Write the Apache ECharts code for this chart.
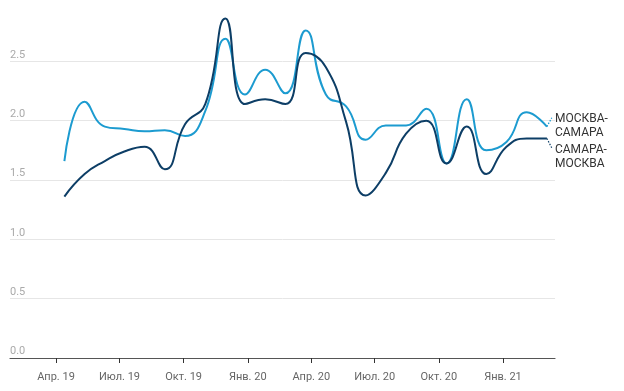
<!DOCTYPE html>
<html>
<head>
<meta charset="utf-8">
<script src="https://cdn.jsdelivr.net/npm/echarts@6/dist/echarts.min.js"></script>
<style>html,body{margin:0;padding:0;background:#fff}#c{width:624px;height:391px}</style>
</head>
<body>
<div id="c"></div>
<script>
// Observation dates (x) and values for each direction
const dates = ['2019-04-13','2019-05-12','2019-06-10','2019-07-08','2019-08-06','2019-09-04','2019-10-03','2019-11-01','2019-11-30','2019-12-28','2020-01-26','2020-02-24','2020-03-24','2020-04-22','2020-05-21','2020-06-18','2020-07-17','2020-08-15','2020-09-13','2020-10-12','2020-11-10','2020-12-08','2021-01-06','2021-02-04','2021-03-05'];
const moscowSamara = [1.66,2.16,1.95,1.93,1.91,1.92,1.87,2.08,2.69,2.22,2.43,2.23,2.76,2.22,2.12,1.84,1.96,1.96,2.10,1.64,2.18,1.75,1.82,2.07,1.95];
const samaraMoscow = [1.36,1.55,1.66,1.74,1.78,1.59,1.97,2.14,2.86,2.14,2.18,2.14,2.57,2.45,1.99,1.37,1.56,1.89,2.00,1.64,1.95,1.55,1.78,1.85,1.85];
const tickDates = ['2019-04-01','2019-07-01','2019-10-01','2020-01-01','2020-04-01','2020-07-01','2020-10-01','2021-01-01'];
const tickLabels = ['Апр. 19','Июл. 19','Окт. 19','Янв. 20','Апр. 20','Июл. 20','Окт. 20','Янв. 21'];
const seriesNames = ['МОСКВА-\nСАМАРА','САМАРА-\nМОСКВА'];

const base = Date.UTC(2019,3,1);
const dayOf = s => { const p = s.split('-').map(Number); return Math.round((Date.UTC(p[0],p[1]-1,p[2]) - base)/86400000); };
const xs = dates.map(dayOf);
const ticks = tickDates.map(dayOf);
const labelFor = v => { const i = ticks.indexOf(Math.round(v)); return i >= 0 ? tickLabels[i] : ''; };
const last = xs.length - 1;

// short dotted leader from the line end toward its label
function leader(vals, dy, color) {
  return {
    silent: true, symbol: 'none', animation: false,
    label: { show: false },
    lineStyle: { type: [1.5, 1.5], color: color, width: 1.2 },
    data: [[ { coord: [xs[last], vals[last]] }, { coord: [xs[last] + 7, vals[last] + dy] } ]]
  };
}

const chart = echarts.init(document.getElementById('c'));
chart.setOption({
  animation: false,
  textStyle: { fontFamily: 'Roboto' },
  grid: { left: 10, right: 69, top: 2, bottom: 33 },
  xAxis: {
    type: 'value', min: -66, max: 715.6,
    splitLine: { show: false },
    axisLine: { lineStyle: { color: '#555', width: 1.2 } },
    axisTick: { show: true, length: 5, customValues: ticks, lineStyle: { color: '#333' } },
    axisLabel: { customValues: ticks, formatter: labelFor, color: '#666', fontSize: 11, margin: 14 }
  },
  yAxis: {
    type: 'value', min: 0, max: 3, interval: 0.5,
    axisLine: { show: false }, axisTick: { show: false },
    splitLine: { show: true, showMaxLine: false, lineStyle: { color: '#e6e6e6', width: 1 } },
    axisLabel: { inside: true, margin: 0, showMaxLabel: false, verticalAlign: 'bottom', padding: [0,0,1,0], color: '#aaa', fontSize: 11, formatter: v => v.toFixed(1) }
  },
  series: [
    {
      name: seriesNames[0], type: 'line', smooth: 0.5, symbol: 'none',
      data: xs.map((x,i) => [x, moscowSamara[i]]),
      lineStyle: { color: '#1c9bd0', width: 2 }, itemStyle: { color: '#1c9bd0' },
      endLabel: { show: true, formatter: p => p.seriesName, color: '#333', fontSize: 12, lineHeight: 14, distance: 8, offset: [0, -1] },
      markLine: leader(moscowSamara, 0.075, '#1c9bd0')
    },
    {
      name: seriesNames[1], type: 'line', smooth: 0.5, symbol: 'none',
      data: xs.map((x,i) => [x, samaraMoscow[i]]),
      lineStyle: { color: '#0d3e66', width: 2 }, itemStyle: { color: '#0d3e66' },
      endLabel: { show: true, formatter: p => p.seriesName, color: '#333', fontSize: 12, lineHeight: 14, distance: 8, offset: [0, 19] },
      markLine: leader(samaraMoscow, -0.08, '#0d3e66')
    }
  ]
});
</script>
</body>
</html>
